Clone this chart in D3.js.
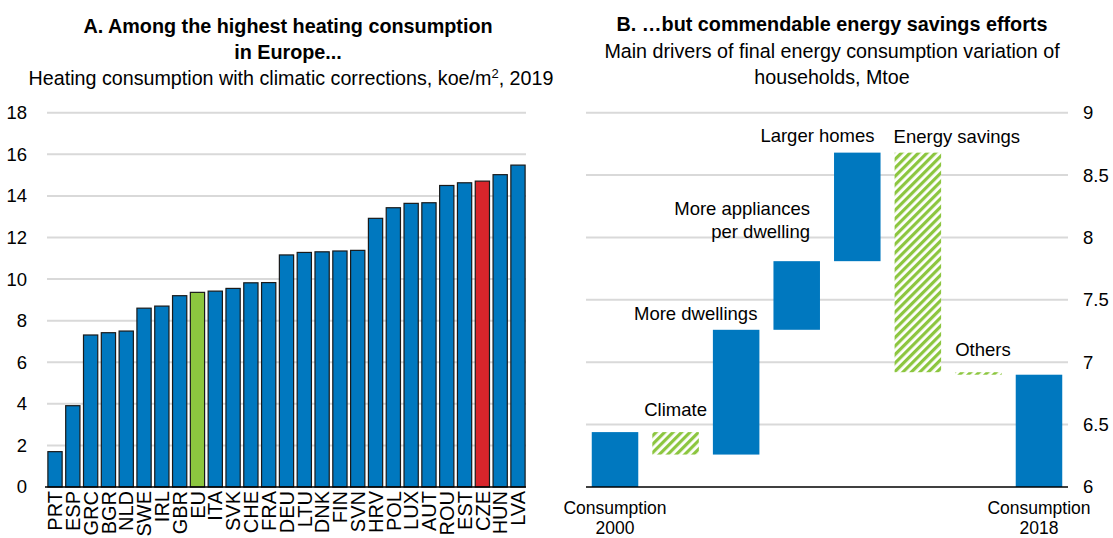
<!DOCTYPE html>
<html>
<head>
<meta charset="utf-8">
<script src="https://cdn.jsdelivr.net/npm/d3@7"></script>
<style>
  body { margin: 0; background: #fff; }
  svg { display: block; font-family: "Liberation Sans", Arial, sans-serif; }
</style>
</head>
<body>
<svg id="chart" width="1113" height="538"></svg>
<script>
// panel A - heating consumption, koe/m2
const countries = ["PRT","ESP","GRC","BGR","NLD","SWE","IRL","GBR","EU","ITA","SVK","CHE","FRA","DEU","LTU","DNK","FIN","SVN","HRV","POL","LUX","AUT","ROU","EST","CZE","HUN","LVA"]
const heating = [1.7,3.91,7.31,7.42,7.5,8.6,8.7,9.2,9.36,9.42,9.55,9.82,9.83,11.16,11.28,11.31,11.35,11.38,12.92,13.43,13.64,13.67,14.5,14.63,14.71,15.02,15.48]
const ticksA = [0,2,4,6,8,10,12,14,16,18]

// panel B - waterfall, Mtoe
const drivers = ["Consumption 2000","Climate","More dwellings","More appliances per dwelling","Larger homes","Energy savings","Others","Consumption 2018"]
const start2000 = 6.44
const deltas = [-0.18, 1.0, 0.55, 0.87, -1.76, -0.02]
const end2018 = 6.9
const ticksB = [6,6.5,7,7.5,8,8.5,9]

const blue = "#0078bf", green = "#8cc63f", red = "#d9252b", grid = "#d9d9d9"

const svg = d3.select("#chart")

// hatch for the negative drivers
svg.append("defs").append("pattern")
  .attr("id","hatch").attr("patternUnits","userSpaceOnUse")
  .attr("width",6).attr("height",6)
  .attr("patternTransform","rotate(45)")
  .call(p => {
    p.append("rect").attr("width",6).attr("height",6).attr("fill","#fff")
    p.append("rect").attr("width",3.2).attr("height",6).attr("fill",green)
  })

// ---------- panel A ----------
const xA = d3.scaleBand().domain(countries).range([47,526]).paddingInner(0.2).paddingOuter(0.05)
const yA = d3.scaleLinear().domain([0,18]).range([487,112.7])

const gA = svg.append("g")

gA.append("g").selectAll("line").data(ticksA.slice(1)).enter()
  .append("line")
  .attr("x1",47).attr("x2",526)
  .attr("y1",d => yA(d)).attr("y2",d => yA(d))
  .attr("stroke",grid).attr("stroke-width",2)

gA.append("g").selectAll("text").data(ticksA).enter()
  .append("text")
  .attr("x",27).attr("y",d => yA(d)).attr("dy","0.35em")
  .attr("text-anchor","end").attr("font-size",18.5)
  .text(d => d)

gA.append("g").selectAll("rect").data(countries).enter()
  .append("rect")
  .attr("x",d => xA(d)).attr("width",xA.bandwidth())
  .attr("y",(d,i) => yA(heating[i])).attr("height",(d,i) => yA(0)-yA(heating[i]))
  .attr("fill",d => d=="EU" ? green : d=="CZE" ? red : blue)
  .attr("stroke","#1a1a1a").attr("stroke-width",1.2)

gA.append("line").attr("x1",45).attr("x2",526).attr("y1",yA(0)).attr("y2",yA(0))
  .attr("stroke","#000").attr("stroke-width",1.5)

gA.append("g").selectAll("text").data(countries).enter()
  .append("text")
  .attr("transform",d => `translate(${xA(d)+xA.bandwidth()/2},491) rotate(-90)`)
  .attr("dy","0.36em").attr("text-anchor","end").attr("font-size",20)
  .text(d => d)

const tA = gA.append("text").attr("text-anchor","middle").attr("x",288)
tA.append("tspan").attr("x",288).attr("y",33).attr("font-weight","bold").attr("font-size",19.8).text("A. Among the highest heating consumption")
tA.append("tspan").attr("x",288).attr("y",59).attr("font-weight","bold").attr("font-size",19.8).text("in Europe...")
const sub = gA.append("text").attr("text-anchor","middle").attr("x",291).attr("y",85).attr("font-size",19.7)
sub.append("tspan").text("Heating consumption with climatic corrections, koe/m")
sub.append("tspan").attr("font-size",13).attr("dy",-7).text("2")
sub.append("tspan").attr("dy",7).text(", 2019")

// ---------- panel B ----------
const xB = d3.scaleBand().domain(drivers).range([586,1068]).paddingInner(0.232).paddingOuter(0.095)
const yB = d3.scaleLinear().domain([6,9]).range([487,112.7])

// running totals for the waterfall
let level = start2000
const steps = [{name:drivers[0], lo:6, hi:start2000, total:true}]
deltas.forEach((d,i) => {
  const next = level + d
  steps.push({name:drivers[i+1], lo:Math.min(level,next), hi:Math.max(level,next), neg:d<0})
  level = next
})
steps.push({name:drivers[7], lo:6, hi:end2018, total:true})

const gB = svg.append("g")

gB.append("g").selectAll("line").data(ticksB.slice(1)).enter()
  .append("line")
  .attr("x1",586).attr("x2",1068)
  .attr("y1",d => yB(d)).attr("y2",d => yB(d))
  .attr("stroke",grid).attr("stroke-width",2)

gB.append("g").selectAll("text").data(ticksB).enter()
  .append("text")
  .attr("x",1083).attr("y",d => yB(d)).attr("dy","0.35em")
  .attr("font-size",18.5)
  .text(d => d)

gB.append("g").selectAll("rect").data(steps).enter()
  .append("rect")
  .attr("x",d => xB(d.name)).attr("width",xB.bandwidth())
  .attr("y",d => yB(d.hi)).attr("height",d => Math.max(yB(d.lo)-yB(d.hi),1.5))
  .attr("fill",d => d.neg ? "url(#hatch)" : blue)

gB.append("line").attr("x1",586).attr("x2",1068).attr("y1",yB(6)).attr("y2",yB(6))
  .attr("stroke","#000").attr("stroke-width",1.5)

// label placement relative to each bar
const labelPos = {
  "Climate":                      {anchor:"middle", at:"mid",   dy:-16, lines:["Climate"]},
  "More dwellings":               {anchor:"end",    at:"right", dx:-2, dy:-10, lines:["More dwellings"]},
  "More appliances per dwelling": {anchor:"end",    at:"right", dx:-10, dy:-46, lines:["More appliances","per dwelling"]},
  "Larger homes":                 {anchor:"end",    at:"right", dx:-6, dy:-11, lines:["Larger homes"]},
  "Energy savings":               {anchor:"start",  at:"left",  dx:-1, dy:-10, lines:["Energy savings"]},
  "Others":                       {anchor:"start",  at:"left",  dx:0, dy:-16, lines:["Others"]}
}

steps.forEach(s => {
  const x0 = xB(s.name), w = xB.bandwidth()
  if (s.total) {
    const t = gB.append("text").attr("text-anchor","middle").attr("font-size",17.5)
    t.append("tspan").attr("x",x0+w/2).attr("y",513.5).text("Consumption")
    t.append("tspan").attr("x",x0+w/2).attr("y",534).text(s.name.split(" ")[1])
    return
  }
  const p = labelPos[s.name]
  const lx = (p.at=="mid" ? x0+w/2 : p.at=="right" ? x0+w : x0) + (p.dx||0)
  const t = gB.append("text").attr("text-anchor",p.anchor).attr("font-size",18.5)
  p.lines.forEach((l,i) => t.append("tspan").attr("x",lx).attr("y",yB(s.hi)+p.dy+i*23).text(l))
})

const tB = gB.append("text").attr("text-anchor","middle")
tB.append("tspan").attr("x",832).attr("y",31).attr("font-weight","bold").attr("font-size",19.8).text("B. …but commendable energy savings efforts")
tB.append("tspan").attr("x",832).attr("y",58).attr("font-size",19.7).text("Main drivers of final energy consumption variation of")
tB.append("tspan").attr("x",832).attr("y",84).attr("font-size",19.7).text("households, Mtoe")
</script>
</body>
</html>
